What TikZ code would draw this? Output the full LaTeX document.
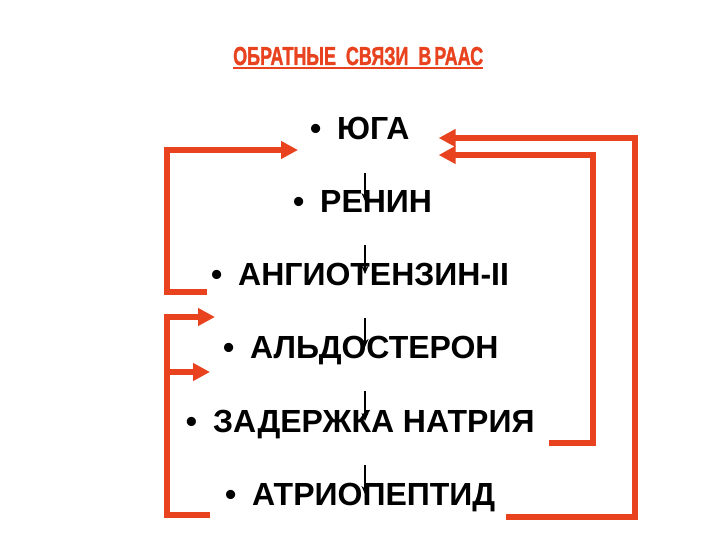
\documentclass[tikz,border=0pt]{standalone}
\usepackage{fontspec}
\setmainfont{Liberation Sans}
\newfontfamily\titlefont[BoldFeatures={FakeBold=1.6}]{Liberation Sans}
\usepackage{tikz}
\usetikzlibrary{arrows.meta,calc,positioning}

\definecolor{raasred}{RGB}{232,66,30}
\newcommand{\bul}{\makebox[0pt][r]{•\hspace{16pt}}}

\begin{document}
\begin{tikzpicture}[
    x=1pt, y=-1pt,
    item/.style={anchor=base west, inner sep=0pt, font=\bfseries\fontsize{32}{40}\selectfont},
    heading/.style={anchor=base west, inner sep=0pt, text=raasred, font=\titlefont\bfseries\fontsize{26}{30}\selectfont},
    down/.style={-{Stealth[length=8pt,width=7pt]}, line width=2pt},
    loop/.style={->, >={Triangle[length=17pt,width=17pt]}, raasred, line width=5.5pt}
]
\useasboundingbox[fill=white] (0,0) rectangle (720,540);

% Title
\node[heading] (title) at (233,65) {\scalebox{0.69}[1]{ОБРАТНЫЕ\ \ СВЯЗИ\ \ В\,РААС}};
\draw[raasred, line width=1.5pt] ($(title.base west)+(0,3)$) -- ($(title.base east)+(0,3)$);

% Chain
\node[item] (yuga) at (337,140) {\bul ЮГА};
\node[item] (renin) at (320,212) {\bul РЕНИН};
\node[item] (angio) at (238,285) {\bul АНГИОТЕНЗИН-II};
\node[item] (aldo) at (250,358) {\bul АЛЬДОСТЕРОН};
\node[item] (natr) at (213,432) {\bul ЗАДЕРЖКА НАТРИЯ};
\node[item] (atrio) at (252,505) {\bul АТРИОПЕПТИД};

% Chain arrows
\coordinate (axis) at (365,0);
\foreach \a/\b in {yuga/renin, renin/angio, angio/aldo, aldo/natr, natr/atrio}
    \draw[down] ($(\a.base -| axis)+(0,33)$) -- ($(\b.base -| axis)+(0,-11)$);

% Feedback rails
\coordinate (lx) at (167,0);
\coordinate (rx1) at (593,0);
\coordinate (rx2) at (635,0);

% Left loops
\coordinate (out1) at ($(angio.base west)+(-31,7)$);
\coordinate (in1) at ($(yuga.base west)+(-39,10)$);
\draw[loop] (out1) -- (out1 -| lx) -- (in1 -| lx) -- (in1);

\coordinate (out2) at ($(atrio.base west)+(-42,10)$);
\coordinate (in2) at ($(aldo.base west)+(-35,-41)$);
\coordinate (in3) at ($(aldo.base west)+(-40,14)$);
\draw[loop] (out2) -- (out2 -| lx) -- (in2 -| lx) -- (in2);
\draw[loop] (in3 -| lx) -- (in3);

% Right loops
\coordinate (out3) at ($(atrio.base east)+(11,12)$);
\coordinate (in4) at ($(yuga.base east)+(29,-2)$);
\draw[loop] (out3) -- (out3 -| rx2) -- (in4 -| rx2) -- (in4);

\coordinate (out4) at ($(natr.base east)+(14,11)$);
\coordinate (in5) at ($(yuga.base east)+(29,15)$);
\draw[loop] (out4) -- (out4 -| rx1) -- (in5 -| rx1) -- (in5);

\end{tikzpicture}
\end{document}
